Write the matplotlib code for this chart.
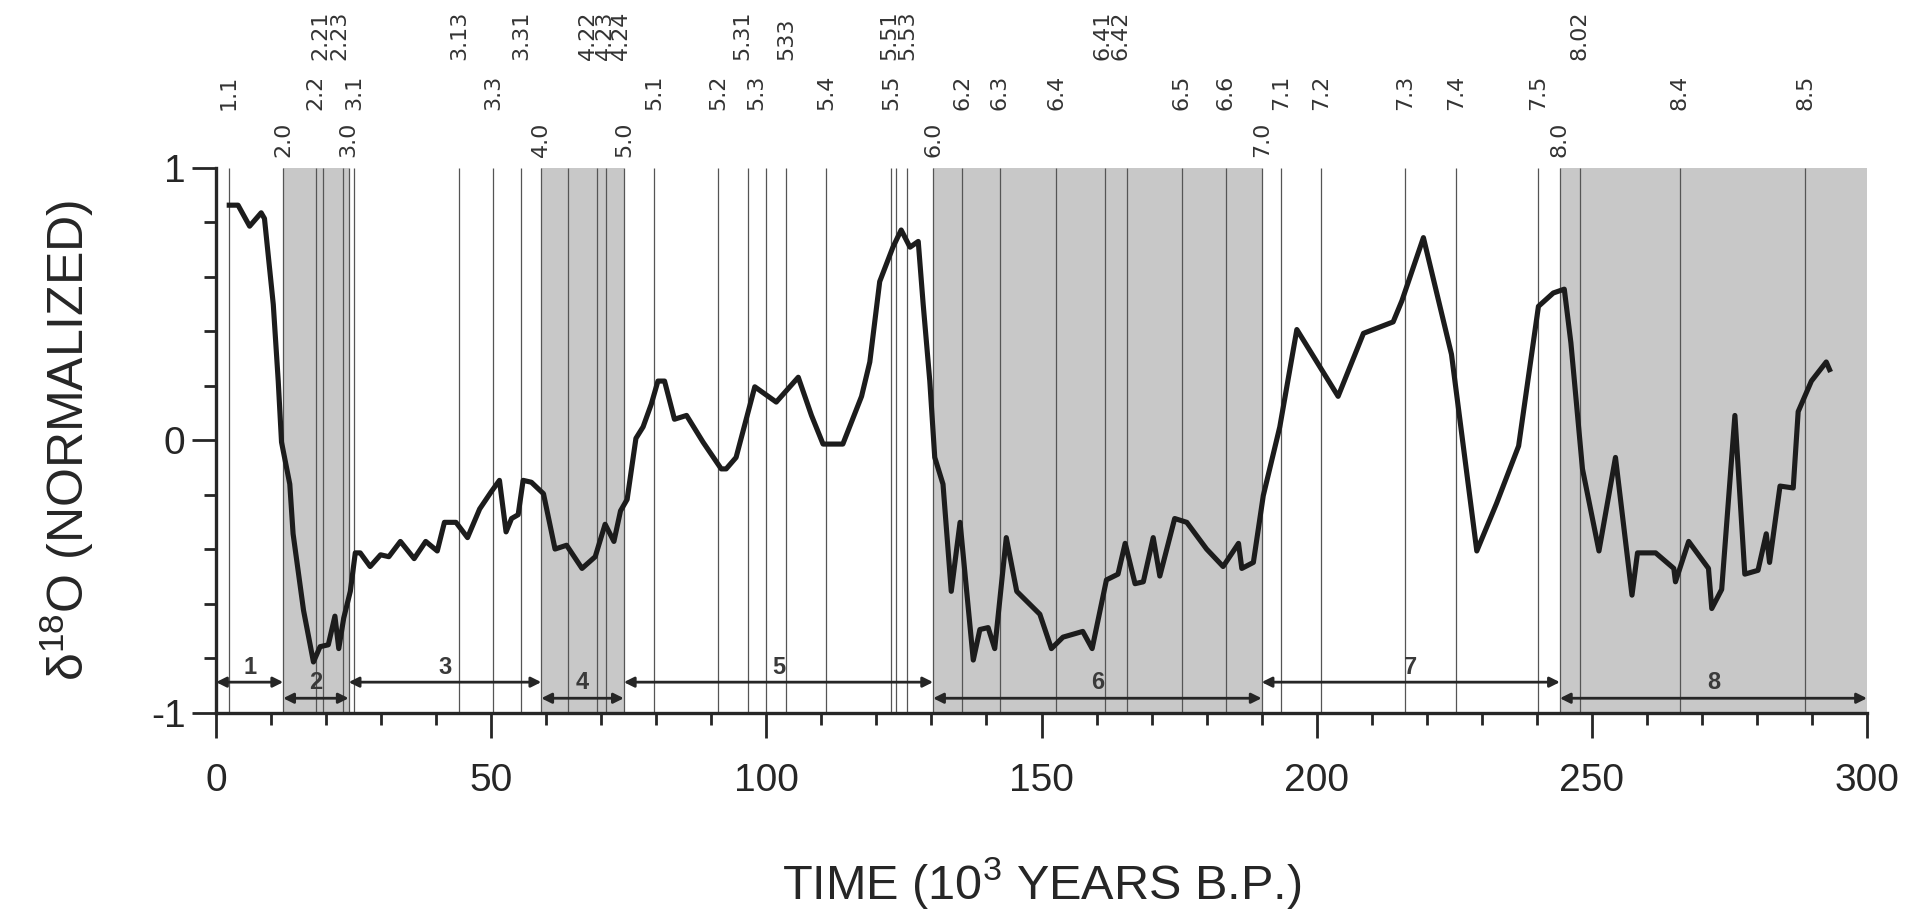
import matplotlib
matplotlib.use('Agg')
import matplotlib.pyplot as plt
import matplotlib.transforms as mtransforms
from matplotlib.ticker import MultipleLocator, FixedLocator

plt.rcParams['font.family'] = ['Liberation Sans', 'DejaVu Sans']
plt.rcParams['mathtext.fontset'] = 'custom'
plt.rcParams['mathtext.rm'] = 'Liberation Sans'
plt.rcParams['mathtext.it'] = 'Liberation Sans:italic'

# normalized d18O record (age in ka)
age = [2.4, 4.0, 6.1, 7.0, 8.2, 8.8, 10.4, 11.3, 11.9, 13.4, 14.0, 15.9, 17.7, 18.9,
       20.4, 21.6, 22.3, 23.2, 24.4, 25.3, 26.2, 28.0, 29.9, 31.4, 33.5, 36.0, 38.1,
       40.2, 41.5, 43.6, 45.7, 47.9, 50.0, 51.5, 52.7, 53.7, 54.9, 55.8, 57.3, 59.5,
       61.6, 63.7, 66.5, 68.9, 70.7, 72.3, 73.5, 74.7, 76.3, 77.6, 79.1, 80.3, 81.5,
       83.3, 85.5, 88.5, 91.8, 92.7, 94.5, 97.9, 101.8, 105.8, 108.2, 110.3, 113.9,
       117.3, 118.8, 120.6, 123.0, 124.5, 126.1, 127.6, 128.5, 129.7, 130.6, 132.1,
       133.6, 135.2, 137.6, 138.8, 140.3, 141.5, 143.6, 145.5, 149.7, 151.8, 153.9,
       157.5, 159.2, 161.8, 163.9, 165.2, 167.0, 168.5, 170.3, 171.5, 174.2, 176.4,
       180.0, 183.0, 185.8, 186.4, 188.5, 190.3, 193.3, 196.4, 203.9, 208.5, 213.9,
       215.5, 219.4, 224.5, 229.1, 232.7, 236.7, 240.3, 243.0, 245.0, 246.2, 248.3,
       251.3, 254.3, 257.3, 258.3, 261.6, 264.9, 265.2, 267.6, 271.2, 271.8, 273.6,
       276.0, 277.8, 280.2, 281.7, 282.3, 284.2, 286.6, 287.5, 289.9, 292.6, 293.2]
d18o = [0.862, 0.862, 0.785, 0.806, 0.834, 0.813, 0.498, 0.217, -0.007, -0.161, -0.343,
        -0.624, -0.813, -0.757, -0.750, -0.645, -0.764, -0.652, -0.554, -0.413, -0.413,
        -0.463, -0.420, -0.427, -0.371, -0.434, -0.371, -0.406, -0.301, -0.301, -0.357,
        -0.252, -0.189, -0.147, -0.336, -0.287, -0.273, -0.147, -0.154, -0.196, -0.399,
        -0.385, -0.470, -0.427, -0.308, -0.371, -0.259, -0.217, 0.007, 0.049, 0.133,
        0.217, 0.217, 0.077, 0.091, -0.007, -0.105, -0.105, -0.063, 0.196, 0.140, 0.231,
        0.091, -0.014, -0.014, 0.161, 0.287, 0.582, 0.708, 0.771, 0.708, 0.729, 0.498,
        0.217, -0.063, -0.161, -0.554, -0.301, -0.806, -0.694, -0.687, -0.764, -0.357,
        -0.554, -0.638, -0.764, -0.722, -0.701, -0.764, -0.512, -0.491, -0.378, -0.526,
        -0.519, -0.357, -0.498, -0.287, -0.301, -0.399, -0.463, -0.378, -0.470, -0.448,
        -0.203, 0.049, 0.406, 0.161, 0.392, 0.434, 0.512, 0.743, 0.315, -0.406, -0.231,
        -0.021, 0.491, 0.540, 0.554, 0.357, -0.105, -0.406, -0.063, -0.568, -0.413,
        -0.413, -0.470, -0.519, -0.371, -0.470, -0.617, -0.547, 0.091, -0.491, -0.477,
        -0.343, -0.448, -0.168, -0.175, 0.105, 0.217, 0.287, 0.259]

# isotope events: label, age (ka), label row above the plot
event_names = ['1.1', '2.0', '2.2', '2.21', '2.23', '3.0', '3.1', '3.13', '3.3', '3.31',
               '4.0', '4.22', '4.23', '4.24', '5.0', '5.1', '5.2', '5.3', '5.31', '533',
               '5.4', '5.5', '5.51', '5.53', '6.0', '6.2', '6.3', '6.4', '6.41', '6.42',
               '6.5', '6.6', '7.0', '7.1', '7.2', '7.3', '7.4', '7.5', '8.0', '8.02',
               '8.4', '8.5']
event_ages = [2.3, 12.2, 18.1, 19.5, 23.0, 24.1, 25.1, 44.2, 50.3, 55.5,
              59.1, 64.0, 69.2, 70.9, 74.1, 79.6, 91.2, 96.7, 100.0, 103.6,
              110.9, 122.7, 123.6, 125.5, 130.3, 135.6, 142.4, 152.7, 161.5, 165.6,
              175.5, 183.5, 190.0, 193.6, 200.8, 216.1, 225.3, 240.3, 244.2, 247.8,
              266.0, 288.8]
event_rows = [1, 0, 1, 2, 2, 0, 1, 2, 1, 2,
              0, 2, 2, 2, 0, 1, 1, 1, 2, 2,
              1, 1, 2, 2, 0, 1, 1, 1, 2, 2,
              1, 1, 0, 1, 1, 1, 1, 1, 0, 2,
              1, 1]

# marine isotope stages
stage_names = ['1', '2', '3', '4', '5', '6', '7', '8']
stage_bounds = [0, 12.2, 24.1, 59.1, 74.1, 130.3, 190.0, 244.2, 300]
glacial = ['2', '4', '6', '8']

# label nudges (ka) where the printed labels are crowded
label_shift = {'2.21': -0.5, '2.23': -0.6, '4.22': 3.6, '4.23': 1.4, '4.24': 2.7,
               '5.3': 1.5, '5.31': -4.4, '5.51': -1.2, '5.53': 0.2,
               '6.41': -0.5, '6.42': -1.3}

fig = plt.figure(figsize=(19.17, 9.15), dpi=100)
ax = fig.add_axes([0.1127, 0.2208, 0.8612, 0.5961])

ink = '#262626'

for i, name in enumerate(stage_names):
    if name in glacial:
        ax.axvspan(stage_bounds[i], stage_bounds[i + 1], color='#c8c8c8', lw=0, zorder=0)

ax.vlines(event_ages, -1, 1, color='#555555', lw=0.9, zorder=1)

ax.plot(age, d18o, color='#1c1c1c', lw=3.7, solid_joinstyle='round', zorder=4)

# stage arrows
for i, name in enumerate(stage_names):
    x0, x1 = stage_bounds[i], stage_bounds[i + 1]
    odd = (i % 2 == 0)
    ya = -0.887 if odd else -0.946
    yl = -0.835 if odd else -0.890
    ax.annotate('', xy=(x1, ya), xytext=(x0, ya),
                arrowprops=dict(arrowstyle='<|-|>', color=ink, lw=2.0,
                                mutation_scale=15, shrinkA=0, shrinkB=0),
                zorder=3)
    ax.text((x0 + x1) / 2, yl, name, ha='center', va='center',
            fontsize=17, fontweight='bold', color='#3a3a3a', zorder=3)

# event labels above the plot
trans = mtransforms.blended_transform_factory(ax.transData, ax.transAxes)
row_y = [1.019, 1.105, 1.197]
for name, a, r in zip(event_names, event_ages, event_rows):
    ax.text(a + label_shift.get(name, 0), row_y[r], name, transform=trans,
            rotation=90, ha='center', va='bottom', fontsize=16,
            family='DejaVu Sans', color='#333333', clip_on=False)

ax.set_xlim(0, 300)
ax.set_ylim(-1, 1)
for s in ['top', 'right']:
    ax.spines[s].set_visible(False)
for s in ['left', 'bottom']:
    ax.spines[s].set_linewidth(2.4)
    ax.spines[s].set_color(ink)

ax.xaxis.set_major_locator(MultipleLocator(50))
ax.xaxis.set_minor_locator(MultipleLocator(10))
ax.yaxis.set_major_locator(FixedLocator([-1, 0, 1]))
ax.yaxis.set_minor_locator(MultipleLocator(0.2))
ax.set_yticklabels(['-1', '0', '1'])

ax.tick_params(axis='both', which='both', direction='out', color=ink, width=2.0,
               labelcolor=ink)
ax.tick_params(axis='x', which='major', length=18, pad=18, labelsize=28)
ax.tick_params(axis='x', which='minor', length=8.5)
ax.tick_params(axis='y', which='major', length=17, pad=5, labelsize=28)
ax.tick_params(axis='y', which='minor', length=8.5)

ax.set_xlabel(r'TIME (10$^{\mathregular{3}}$ YEARS B.P.)', fontsize=35, color=ink)
ax.set_ylabel(r'δ$^{\mathregular{18}}$O (NORMALIZED)', fontsize=36, color=ink)
ax.xaxis.set_label_coords(0.5, -0.26)
ax.yaxis.set_label_coords(-0.073, 0.5)

fig.savefig('out.png', dpi=100, facecolor='white')
